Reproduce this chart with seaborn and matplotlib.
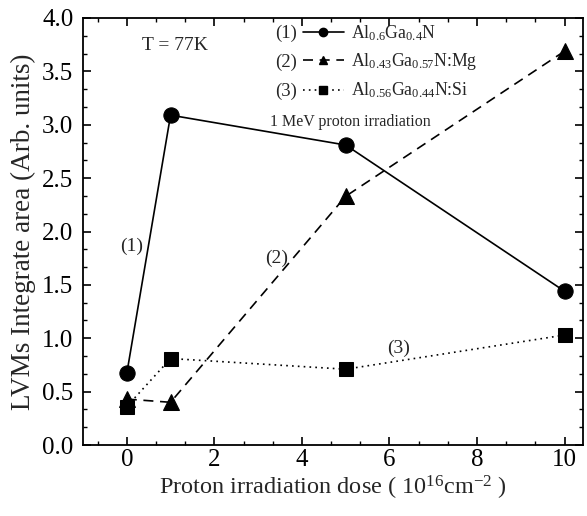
import numpy as np
import pandas as pd
import matplotlib
matplotlib.use("Agg")
import matplotlib.pyplot as plt
from matplotlib.ticker import MultipleLocator, AutoMinorLocator
from matplotlib.lines import Line2D
import seaborn as sns

dose = [0, 1, 5, 10]
s1 = [0.67, 3.09, 2.81, 1.44]
s2 = [0.43, 0.40, 2.33, 3.69]
s3 = [0.36, 0.81, 0.71, 1.03]
labels = [r"Al$_{0.6}$Ga$_{0.4}$N", r"Al$_{0.43}$Ga$_{0.57}$N:Mg", r"Al$_{0.56}$Ga$_{0.44}$N:Si"]
tags = ["(1)", "(2)", "(3)"]

sns.set_style("ticks")
plt.rcParams["font.family"] = ["Liberation Serif", "DejaVu Serif"]
plt.rcParams["mathtext.fontset"] = "custom"
plt.rcParams["mathtext.rm"] = "Liberation Serif"
plt.rcParams["mathtext.it"] = "Liberation Serif:italic"

fig = plt.figure(figsize=(5.87, 5.16), dpi=100)
ax = fig.add_axes([83/587, 1-445/516, 500/587, 427/516])

styles = [dict(ls="-", marker="o", ms=11), dict(ls=(0, (6, 4)), marker="^", ms=12),
          dict(ls=(0, (1, 2.5)), marker="s", ms=9.5)]
series = [s1, s2, s3]
handles = [None, None, None]
for idx in [2, 0, 1]:
    vals, st = series[idx], styles[idx]
    df = pd.DataFrame({"dose": dose, "area": vals})
    sns.lineplot(data=df, x="dose", y="area", ax=ax, color="black", lw=1.2,
                 linestyle=st["ls"], marker=st["marker"], markersize=st["ms"],
                 markeredgecolor="black", markerfacecolor="black")
    handles[idx] = Line2D([], [], color="black", lw=1.2, linestyle=st["ls"],
                          marker=st["marker"], markersize=6)

ax.set_xlim(-1.0, 10.42)
ax.set_ylim(0, 4.0)
ax.xaxis.set_major_locator(MultipleLocator(2))
ax.xaxis.set_minor_locator(AutoMinorLocator(3))
ax.yaxis.set_major_locator(MultipleLocator(0.5))
ax.yaxis.set_minor_locator(AutoMinorLocator(3))
ax.yaxis.set_major_formatter(matplotlib.ticker.FormatStrFormatter("%.1f"))
ax.tick_params(which="both", direction="in", top=True, right=True, colors="black")
ax.tick_params(which="major", length=6, width=1.2, labelsize=18)
ax.tick_params(which="minor", length=3, width=1.0)
ax.tick_params(axis="x", pad=3)
ax.tick_params(axis="y", pad=7)
for sp in ax.spines.values():
    sp.set_linewidth(1.3)
    sp.set_color("black")

ax.set_xlabel(r"Proton irradiation dose ( 10$^{16}$cm$^{-2}$ )", fontsize=17.5, labelpad=2)
ax.set_ylabel("LVMs Integrate area (Arb. units)", fontsize=19.5, labelpad=4)

leg = ax.legend(handles, labels, loc="upper left", bbox_to_anchor=((303-83)/500, 1.0 - (23-18)/427),
                frameon=False, fontsize=12.8, handlelength=2.3, handletextpad=0.4,
                labelspacing=0.48, borderaxespad=0, borderpad=0)
for i, t in enumerate(tags):
    fig.text(275/587, 1 - (33 + 29*i)/516, t, fontsize=13.5, va="center", ha="left")
fig.text(270/587, 1 - 122/516, "1 MeV proton irradiation", fontsize=11.5, va="center", ha="left")

ax.text(1.1, 3.74, "T = 77K", fontsize=14, ha="center", va="center")
ax.text(0.12, 1.86, "(1)", fontsize=14, ha="center", va="center")
ax.text(3.42, 1.75, "(2)", fontsize=14, ha="center", va="center")
ax.text(6.2, 0.91, "(3)", fontsize=14, ha="center", va="center")

fig.savefig("out.png", dpi=100)
